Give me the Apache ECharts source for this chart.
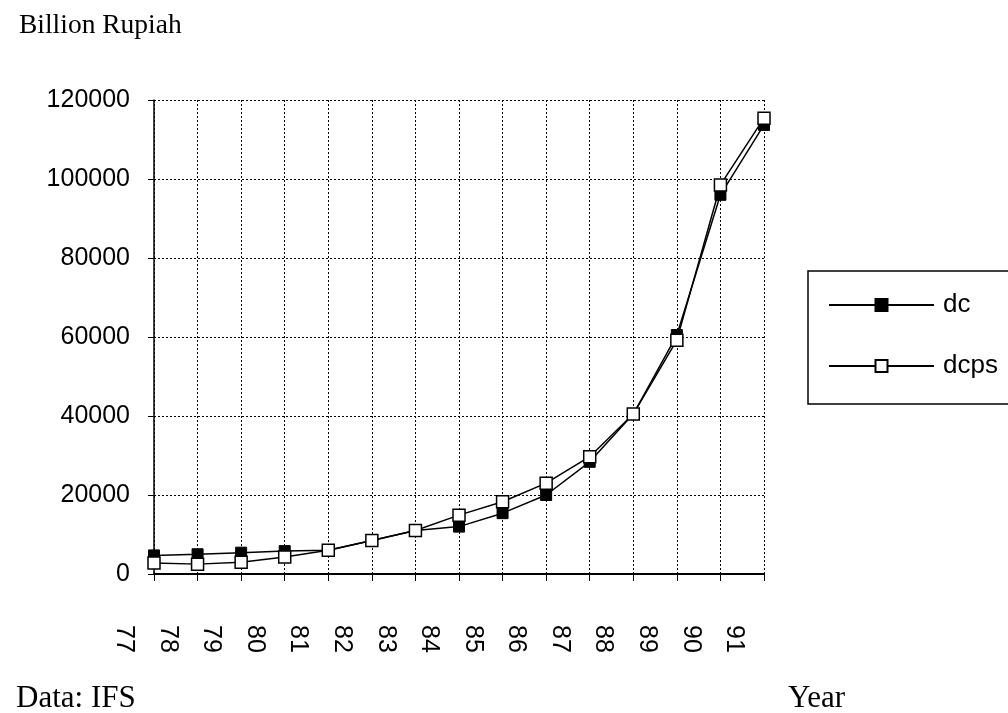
<!DOCTYPE html>
<html>
<head>
<meta charset="utf-8">
<script src="https://cdn.jsdelivr.net/npm/echarts@6/dist/echarts.min.js"></script>
<style>
  html, body { margin: 0; padding: 0; background: #fff; overflow: hidden; }
  /* the legend frame runs past the right edge of the page */
  #chart { width: 1060px; height: 713px; }
</style>
</head>
<body>
<div id="chart"></div>
<script>
// Years (two-digit) on the category axis
const years = ['77', '78', '79', '80', '81', '82', '83', '84', '85', '86', '87', '88', '89', '90', '91'];
// Domestic credit (billion rupiah)
const dc = [4700, 5000, 5400, 5800, 6000, 8500, 11000, 12000, 15400, 20000, 28400, 40500, 60500, 96000, 113700];
// Domestic credit to the private sector (billion rupiah)
const dcps = [2800, 2500, 3000, 4300, 6000, 8500, 11000, 14900, 18300, 23000, 29700, 40500, 59200, 98500, 115400];
// Value axis ticks
const yMin = 0, yMax = 120000, yStep = 20000;

const sans = 'Liberation Sans, Arial, sans-serif';
const serif = 'Liberation Serif, Times New Roman, serif';

const chart = echarts.init(document.getElementById('chart'), null, { renderer: 'canvas' });

chart.setOption({
  animation: false,
  backgroundColor: '#ffffff',
  title: [
    { text: 'Billion Rupiah', left: 14, top: 7,
      textStyle: { fontFamily: serif, fontSize: 27.5, fontWeight: 'normal', color: '#000' } },
    { text: 'Data: IFS', left: 11, top: 678,
      textStyle: { fontFamily: serif, fontSize: 31, fontWeight: 'normal', color: '#000' } },
    { text: 'Year', left: 783, top: 678,
      textStyle: { fontFamily: serif, fontSize: 31, fontWeight: 'normal', color: '#000' } }
  ],
  legend: {
    orient: 'vertical',
    left: 808,
    top: 271,
    padding: [21, 40, 25, 20],
    itemGap: 35,
    itemWidth: 105,
    itemHeight: 15,
    borderColor: '#000',
    borderWidth: 1.5,
    borderRadius: 0,
    textStyle: { fontFamily: sans, fontSize: 26, color: '#000', padding: [0, 0, 0, 4] },
    data: ['dc', 'dcps']
  },
  grid: { left: 154, right: 296, top: 100, bottom: 139, containLabel: false },
  xAxis: {
    type: 'category',
    data: years,
    boundaryGap: false,
    axisLine: { show: true, lineStyle: { color: '#000', width: 2 } },
    axisTick: { show: true, length: 7, lineStyle: { color: '#000', width: 1 } },
    axisLabel: {
      rotate: -90,
      margin: 51,
      fontFamily: sans,
      fontSize: 25,
      color: '#000',
      interval: 0,
      // labels sit a little to the left of their grid line
      verticalAlign: 'top',
      lineHeight: 60
    },
    splitLine: { show: true, lineStyle: { color: '#000', type: [2, 2], width: 1 } }
  },
  yAxis: {
    type: 'value',
    min: yMin,
    max: yMax,
    interval: yStep,
    axisLine: { show: true, lineStyle: { color: '#000', width: 1.5 } },
    axisTick: { show: true, length: 6, lineStyle: { color: '#000', width: 1 } },
    axisLabel: { margin: 24, fontFamily: sans, fontSize: 25, color: '#000', formatter: v => String(v) },
    splitLine: { show: true, lineStyle: { color: '#000', type: [2, 2], width: 1 } }
  },
  series: [
    {
      name: 'dc',
      type: 'line',
      data: dc,
      symbol: 'rect',
      symbolSize: 11,
      showAllSymbol: true,
      lineStyle: { color: '#000', width: 1.5 },
      itemStyle: { color: '#000', borderColor: '#000', borderWidth: 1 }
    },
    {
      name: 'dcps',
      type: 'line',
      data: dcps,
      symbol: 'rect',
      symbolSize: 12,
      showAllSymbol: true,
      lineStyle: { color: '#000', width: 1.5 },
      itemStyle: { color: '#fff', borderColor: '#000', borderWidth: 1.5 }
    }
  ]
});
</script>
</body>
</html>
